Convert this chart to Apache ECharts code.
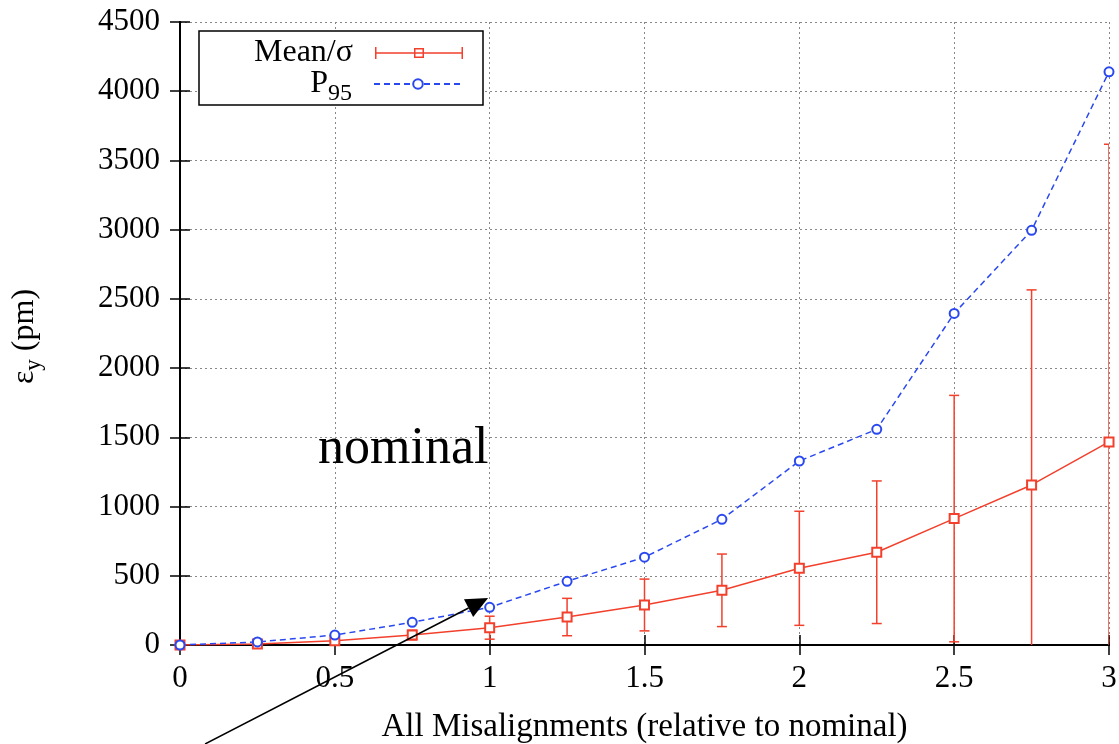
<!DOCTYPE html>
<html>
<head>
<meta charset="utf-8">
<script src="https://cdn.jsdelivr.net/npm/echarts@6/dist/echarts.min.js"></script>
<style>
  html, body { margin: 0; padding: 0; background: #fff; }
  #main { width: 1119px; height: 744px; }
</style>
</head>
<body>
<div id="main"></div>
<script>
// misalignment factor (relative to nominal)
var xs = [0, 0.25, 0.5, 0.75, 1, 1.25, 1.5, 1.75, 2, 2.25, 2.5, 2.75, 3]
// mean emittance and its sigma (pm)
var meanVals = [0, 8, 30, 72, 125, 202, 289, 395, 554, 670, 913, 1156, 1467]
var sigmaVals = [0, 6, 15, 35, 83, 135, 187, 262, 412, 515, 890, 1409, 2150]
// 95th percentile (pm)
var p95Vals = [0, 22, 72, 164, 272, 460, 634, 908, 1329, 1558, 2395, 2995, 4140]
// annotation arrow, data coords
var arrowFrom = [0.081, -715]
var arrowTo = [0.995, 340]

var RED = '#f2402c'
var BLUE = '#2a48f0'
var FONT = 'Liberation Serif'

var meanData = xs.map(function (x, i) { return [x, meanVals[i]] })
var errData = xs.map(function (x, i) { return [x, meanVals[i], sigmaVals[i]] })
var p95Data = xs.map(function (x, i) { return [x, p95Vals[i]] })

// legend icon for the mean: error bar + hollow square (88x12)
var meanIcon = 'path://M0,0H1.5V12H0Z M86.5,0H88V12H86.5Z M0,5.25H88V6.75H0Z ' +
  'M39,1H49V11H39Z M40.5,2.5V9.5H47.5V2.5Z'

function renderErr(params, api) {
  var x = api.value(0), m = api.value(1), s = api.value(2)
  var lo = api.coord([x, m - s])
  var hi = api.coord([x, m + s])
  var w = 5
  var st = { stroke: RED, lineWidth: 1.5 }
  return {
    type: 'group',
    children: [
      { type: 'line', shape: { x1: lo[0], y1: lo[1], x2: hi[0], y2: hi[1] }, style: st },
      { type: 'line', shape: { x1: lo[0] - w, y1: lo[1], x2: lo[0] + w, y2: lo[1] }, style: st },
      { type: 'line', shape: { x1: hi[0] - w, y1: hi[1], x2: hi[0] + w, y2: hi[1] }, style: st }
    ]
  }
}

var chart = echarts.init(document.getElementById('main'))

var axisLine = { lineStyle: { color: '#000', width: 2 } }
var tick = { inside: true, length: 10, lineStyle: { color: '#000', width: 1.5 } }
var grid = { show: true, lineStyle: { color: '#888', type: [2, 3], width: 1 } }
var tickFont = { fontFamily: FONT, fontSize: 31, color: '#000' }
function plain(v) { return String(v) }

var option = {
  animation: false,
  backgroundColor: '#fff',
  grid: { left: 180, right: 10, top: 22, bottom: 99, containLabel: false, outerBoundsMode: 'none' },
  legend: [{
    data: [{ name: 'Mean/σ', icon: meanIcon }],
    right: 656,
    top: 37,
    padding: 0,
    align: 'right',
    itemWidth: 88,
    itemHeight: 12,
    itemStyle: { borderWidth: 0 },
    formatter: function () { return '{a|Mean/σ}' },
    textStyle: {
      fontFamily: FONT, fontSize: 32, color: '#000',
      rich: { a: { fontFamily: FONT, fontSize: 32, color: '#000', padding: [0, 17, 0, 0] } }
    }
  }, {
    data: ['P95'],
    right: 656,
    top: 68,
    padding: 0,
    align: 'right',
    itemWidth: 88,
    itemHeight: 12,
    formatter: function () { return '{a|P}{b|95}' },
    textStyle: {
      fontFamily: FONT, fontSize: 32, color: '#000',
      rich: {
        a: { fontFamily: FONT, fontSize: 32, color: '#000' },
        b: { fontFamily: FONT, fontSize: 24, color: '#000', padding: [20, 17, 0, 0] }
      }
    }
  }],
  xAxis: [{
    type: 'value',
    min: 0, max: 3, interval: 0.5,
    name: 'All Misalignments (relative to nominal)',
    nameLocation: 'middle',
    nameGap: 66,
    nameTextStyle: { fontFamily: FONT, fontSize: 33, color: '#000' },
    axisLine: axisLine,
    axisTick: tick,
    splitLine: grid,
    axisLabel: Object.assign({ margin: 18, formatter: plain }, tickFont)
  }, {
    type: 'value',
    position: 'top',
    min: 0, max: 3, interval: 0.5,
    axisLine: axisLine,
    axisTick: tick,
    splitLine: { show: false },
    axisLabel: { show: false }
  }],
  yAxis: [{
    type: 'value',
    min: 0, max: 4500, interval: 500,
    name: '{e|ε}{s|y}{t| (pm)}',
    nameLocation: 'middle',
    nameGap: 135,
    nameTextStyle: {
      fontFamily: FONT, fontSize: 32, color: '#000',
      rich: {
        e: { fontFamily: FONT, fontSize: 32, color: '#000' },
        s: { fontFamily: FONT, fontSize: 23, color: '#000', padding: [18, 0, 0, 0] },
        t: { fontFamily: FONT, fontSize: 32, color: '#000', padding: [0, 6, 0, 0] }
      }
    },
    axisLine: axisLine,
    axisTick: tick,
    splitLine: grid,
    axisLabel: Object.assign({ margin: 20, formatter: plain }, tickFont)
  }, {
    type: 'value',
    position: 'right',
    min: 0, max: 4500, interval: 500,
    axisLine: axisLine,
    axisTick: tick,
    splitLine: { show: false },
    axisLabel: { show: false }
  }],
  series: [{
    name: 'Mean/σ',
    type: 'line',
    data: meanData,
    symbol: 'emptyRect',
    symbolSize: 9,
    color: RED,
    lineStyle: { color: RED, width: 1.5 },
    itemStyle: { color: RED, borderWidth: 1.5 },
    z: 3
  }, {
    name: 'Mean/σ',
    type: 'custom',
    data: errData,
    renderItem: renderErr,
    clip: true,
    encode: { x: 0, y: [1, 2] },
    z: 2
  }, {
    name: 'P95',
    type: 'line',
    data: p95Data,
    symbol: 'emptyCircle',
    symbolSize: 9,
    color: BLUE,
    lineStyle: { color: BLUE, width: 1.5, type: [6, 4] },
    itemStyle: { color: BLUE, borderWidth: 1.5 },
    z: 3
  }]
}

chart.setOption(option)

// legend frame, "nominal" label and the arrow
var p1 = chart.convertToPixel({ xAxisIndex: 0, yAxisIndex: 0 }, arrowFrom)
var p2 = chart.convertToPixel({ xAxisIndex: 0, yAxisIndex: 0 }, arrowTo)
var dx = p2[0] - p1[0], dy = p2[1] - p1[1]
var len = Math.sqrt(dx * dx + dy * dy)
var ux = dx / len, uy = dy / len
var hl = 22, hw = 10
var bx = p2[0] - ux * hl, by = p2[1] - uy * hl

chart.setOption({
  graphic: [{
    type: 'rect',
    shape: { x: 199, y: 31, width: 284, height: 74 },
    style: { fill: '#fff', stroke: '#000', lineWidth: 1.5 },
    z: 3
  }, {
    type: 'text',
    style: { x: 318, y: 449, text: 'nominal', font: '52px "Liberation Serif"', fill: '#000', verticalAlign: 'middle' },
    z: 5
  }, {
    type: 'line',
    shape: { x1: p1[0], y1: p1[1], x2: bx, y2: by },
    style: { stroke: '#000', lineWidth: 1.5 },
    z: 6
  }, {
    type: 'polygon',
    shape: { points: [p2, [bx - uy * hw, by + ux * hw], [bx + uy * hw, by - ux * hw]] },
    style: { fill: '#000' },
    z: 6
  }]
})
</script>
</body>
</html>
